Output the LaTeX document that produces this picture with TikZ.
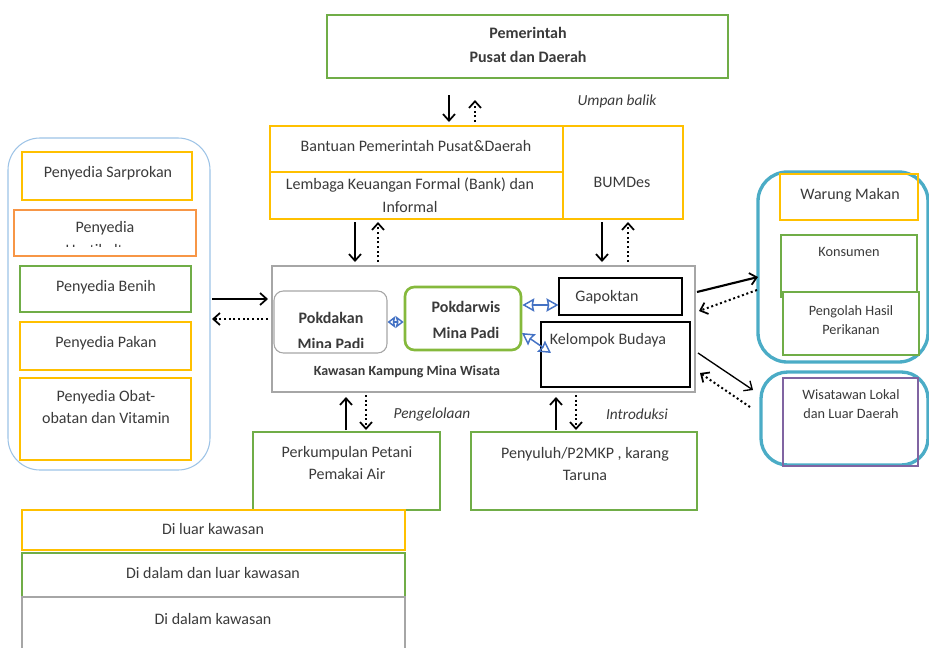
\documentclass[tikz,border=0pt]{standalone}
\usepackage{fontspec}
\setmainfont{Carlito}
\usetikzlibrary{arrows.meta,fit}
\definecolor{cyel}{HTML}{FFC000}
\definecolor{corg}{HTML}{F79646}
\definecolor{cgrn}{HTML}{70AD47}
\definecolor{clblue}{HTML}{9DC3E6}
\definecolor{ccyan}{HTML}{4BACC6}
\definecolor{cpurp}{HTML}{8064A2}
\definecolor{cgray}{HTML}{A6A6A6}
\definecolor{ctxt}{HTML}{3A3A3A}
\definecolor{carr}{HTML}{4472C4}
\tikzset{
  box/.style={draw, inner sep=0pt, line width=1.5pt},
  thinbox/.style={draw, inner sep=0pt, line width=0.8pt},
  txt/.style={text=ctxt, font=\fontsize{12}{17}\selectfont, align=center, inner sep=1pt},
  stxt/.style={text=ctxt, font=\fontsize{10.7}{14}\selectfont, align=center, inner sep=1pt},
  ital/.style={text=ctxt, font=\fontsize{11.5}{14}\selectfont\itshape, inner sep=1pt},
  sol/.style={-{Straight Barb[length=5pt,width=9pt,line width=1.3pt]}, line width=1.6pt, black},
  dotarr/.style={-{Straight Barb[length=5pt,width=9pt,line width=1.3pt]}, line width=1.5pt, dotted, black},
  thinsol/.style={-{Straight Barb[length=5pt,width=9pt,line width=1pt]}, line width=1pt, black},
  barr/.style={{Stealth[open,length=9pt,width=10pt,inset=1pt]}-{Stealth[open,length=9pt,width=10pt,inset=1pt]}, carr, line width=1.1pt},
  sbarr/.style={{Stealth[open,length=6pt,width=9pt,inset=1pt]}-{Stealth[open,length=6pt,width=9pt,inset=1pt]}, carr, line width=1.1pt},
}
\begin{document}
\begin{tikzpicture}[x=0.75pt,y=-0.75pt]
\useasboundingbox (0,0) rectangle (929,647);

% top
\node[thinbox, draw=cgrn, fit={(327,15) (728,78)}] (pem) {};
\node[txt, font=\fontsize{12}{18}\selectfont\bfseries] (pemt) at (528,45) {Pemerintah\\Pusat dan Daerah};
\node[ital] (umpan) at (617,101) {Umpan balik};

\node[thinbox, draw=cyel, fit={(270,126) (563,172)}] (bant) {};
\node[txt] (bantt) at (416,146) {Bantuan Pemerintah Pusat\&Daerah};
\node[thinbox, draw=cyel, fit={(270,172) (563,219)}] (lemb) {};
\node[txt] (lembt) at (410,195) {Lembaga Keuangan Formal (Bank) dan\\Informal};
\node[thinbox, draw=cyel, fit={(563,126) (683,219)}] (bum) {};
\node[txt] (bumt) at (622,182) {BUMDes};

% Kawasan
\node[thinbox, draw=cgray, fit={(272,266) (695,392)}] (kaw) {};
\node[txt, font=\fontsize{10.5}{12}\selectfont\bfseries] (kawt) at (407,372) {Kawasan Kampung Mina Wisata};
\node[thinbox, draw=cgray, rounded corners=7pt, fit={(274,291) (387,353)}] (pokd) {};
\begin{scope}
\clip (274,291) rectangle (387,347);
\node[txt, font=\fontsize{12}{20}\selectfont\bfseries] (pokdt) at (331,331) {Pokdakan\\Mina Padi};
\end{scope}
\node[box, draw=cgrn!85!yellow, rounded corners=7pt, line width=2pt, fit={(405,287) (521,350)}] (pokw) {};
\node[txt, font=\fontsize{12}{19}\selectfont\bfseries] (pokwt) at (466,320) {Pokdarwis\\Mina Padi};
\node[thinbox, draw=black, fit={(559,278) (682,315)}] (gap) {};
\node[txt] (gapt) at (607,297) {Gapoktan};
\node[thinbox, draw=black, line width=1.1pt, fit={(541,322) (690,387)}] (kel) {};
\node[txt] (kelt) at (608,340) {Kelompok Budaya};

% left container
\node[thinbox, draw=clblue, rounded corners=24pt, fit={(8,138) (210,470)}] (left) {};
\node[box, draw=cyel, fit={(22,152) (192,200)}] (sarp) {};
\node[txt] (sarpt) at (108,173) {Penyedia Sarprokan};
\node[box, draw=corg, fit={(14,210) (196,256)}] (hort) {};
\begin{scope}
\clip (14,210) rectangle (196,246);
\node[txt, anchor=north] (hortt) at (105,220) {Penyedia\\Hortikultura};
\end{scope}
\node[box, draw=cgrn, fit={(20,266) (191,312)}] (ben) {};
\node[txt] (bent) at (106,287) {Penyedia Benih};
\node[box, draw=cyel, fit={(20,322) (191,370)}] (pak) {};
\node[txt] (pakt) at (106,343) {Penyedia Pakan};
\node[box, draw=cyel, fit={(20,378) (191,460)}] (obat) {};
\node[txt] (obatt) at (106,407) {Penyedia Obat-\\obatan dan Vitamin};

% right containers
\node[box, draw=ccyan, line width=2.5pt, rounded corners=22pt, fit={(758,172) (928,362)}] (rup) {};
\node[box, draw=cyel, fit={(780,174) (918,220)}] (war) {};
\node[txt] (wart) at (850,195) {Warung Makan};
\node[box, draw=cgrn, fit={(781,235) (917,297)}] (kon) {};
\node[stxt] (kont) at (849,252) {Konsumen};
\node[box, draw=cgrn, fill=white, fit={(783,292) (919,355)}] (peng) {};
\node[stxt] (pengt) at (851,320) {Pengolah Hasil\\Perikanan};
\node[box, draw=ccyan, line width=2.5pt, rounded corners=20pt, fit={(761,372) (928,465)}] (rlo) {};
\node[box, draw=cpurp, fit={(783,378) (918,466)}] (wis) {};
\node[stxt] (wist) at (851,404) {Wisatawan Lokal\\dan Luar Daerah};

% bottom
\node[box, draw=cgrn, fit={(253,432) (440,510)}] (perk) {};
\node[txt] (perkt) at (347,463) {Perkumpulan Petani\\Pemakai Air};
\node[box, draw=cgrn, fit={(471,432) (697,510)}] (peny) {};
\node[txt] (penyt) at (585,464) {Penyuluh/P2MKP , karang\\Taruna};
\node[ital] (pengl) at (432,414) {Pengelolaan};
\node[ital] (intro) at (637,414) {Introduksi};

% legend
\node[box, draw=cyel, fit={(22,510) (405,550)}] (leg1) {};
\node[txt] (leg1t) at (213,529) {Di luar kawasan};
\node[box, draw=cgrn, fit={(22,553) (405,597)}] (leg2) {};
\node[txt] (leg2t) at (213,573) {Di dalam dan luar kawasan};
\node[box, draw=cgray, fit={(22,597) (405,652)}] (leg3) {};
\node[txt] (leg3t) at (213,619) {Di dalam kawasan};

% arrow endpoints
\coordinate (a1s) at (449,95);  \coordinate (a1e) at (449,122);
\coordinate (a2s) at (475,122); \coordinate (a2e) at (475,100);
\coordinate (a3s) at (355,222); \coordinate (a3e) at (355,262);
\coordinate (a4s) at (378,262); \coordinate (a4e) at (378,222);
\coordinate (a5s) at (602,222); \coordinate (a5e) at (602,262);
\coordinate (a6s) at (628,262); \coordinate (a6e) at (628,222);
\coordinate (a7s) at (212,299); \coordinate (a7e) at (268,299);
\coordinate (a8s) at (268,319); \coordinate (a8e) at (212,319);
\coordinate (a9s) at (346,430); \coordinate (a9e) at (346,397);
\coordinate (a10s) at (366,395); \coordinate (a10e) at (366,430);
\coordinate (a11s) at (556,430); \coordinate (a11e) at (556,397);
\coordinate (a12s) at (576,395); \coordinate (a12e) at (576,430);
\coordinate (a13s) at (697,292); \coordinate (a13e) at (758,277);
\coordinate (a14s) at (757,290); \coordinate (a14e) at (699,311);
\coordinate (a15s) at (698,353); \coordinate (a15e) at (753,390);
\coordinate (a16s) at (750,407); \coordinate (a16e) at (700,373);

\draw[sol] (a1s) -- (a1e);
\draw[dotarr] (a2s) -- (a2e);
\draw[sol] (a3s) -- (a3e);
\draw[dotarr] (a4s) -- (a4e);
\draw[sol] (a5s) -- (a5e);
\draw[dotarr] (a6s) -- (a6e);
\draw[sol] (a7s) -- (a7e);
\draw[dotarr] (a8s) -- (a8e);
\draw[sol] (a9s) -- (a9e);
\draw[dotarr] (a10s) -- (a10e);
\draw[sol] (a11s) -- (a11e);
\draw[dotarr] (a12s) -- (a12e);
\draw[sol] (a13s) -- (a13e);
\draw[dotarr] (a14s) -- (a14e);
\draw[thinsol] (a15s) -- (a15e);
\draw[dotarr] (a16s) -- (a16e);

% blue double arrows
\draw[sbarr] (pokd.east |- 0,322) -- (pokw.west |- 0,322);
\draw[barr] (pokw.east |- 0,305) -- (gap.west |- 0,305);
\draw[barr] (522,333) -- (551,353);
\end{tikzpicture}
\end{document}
